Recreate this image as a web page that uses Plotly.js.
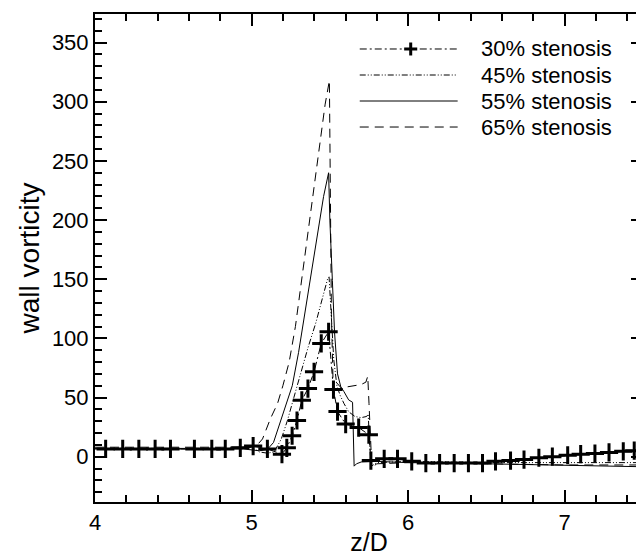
<!DOCTYPE html>
<html><head><meta charset="utf-8">
<script src="https://cdn.plot.ly/plotly-3.0.1.min.js"></script>
<style>html,body{margin:0;padding:0;overflow:hidden;background:#fff}#chart{width:652px;height:556px}</style>
</head><body><div id="chart"></div><script>
// ---- data ----
const seriesNames = ['30% stenosis', '45% stenosis', '55% stenosis', '65% stenosis'];

const x30 = [4.068,4.177,4.280,4.384,4.482,4.635,4.746,4.832,4.928,5.010,5.101,5.194,5.225,5.259,5.290,5.321,5.360,5.399,5.445,5.492,5.523,5.549,5.601,5.684,5.749,5.762,5.847,5.932,6.023,6.113,6.201,6.294,6.385,6.475,6.558,6.654,6.740,6.835,6.921,7.019,7.102,7.193,7.283,7.374,7.444];
const y30 = [6.6,6.6,6.6,6.6,6.6,6.6,6.6,6.6,7.5,9.0,6.6,2.1,7.5,17.7,30.6,47.7,57.6,71.7,95.7,105.6,56.7,38.1,27.6,24.6,18.6,-3.3,-1.8,-1.8,-3.9,-5.4,-5.4,-5.4,-5.4,-5.4,-3.9,-3.3,-2.4,-0.9,0,1.2,2.1,2.7,3.6,4.5,5.1];

const x45 = [4.0,4.5,4.95,5.0,5.05,5.10,5.144,5.19,5.23,5.27,5.315,5.36,5.41,5.45,5.485,5.495,5.505,5.515,5.525,5.545,5.565,5.59,5.62,5.66,5.70,5.735,5.745,5.752,5.765,5.80,6.0,6.5,7.0,7.5];
const y45 = [7,7,7,8,4,3,4,15,31,50,72,92,113,132,150,152,130,100,82,60,52,45,38,34,33,34,36,15,-8,-5,-4,-5,-5,-5];

const x55 = [4.0,4.5,4.95,5.05,5.10,5.14,5.18,5.22,5.26,5.30,5.34,5.38,5.42,5.46,5.492,5.50,5.516,5.53,5.549,5.57,5.59,5.62,5.645,5.655,5.67,5.70,5.8,6.0,6.5,7.0,7.5];
const y55 = [6.5,6.5,6.5,5,6,12,28,42,60,88,122,152,190,220,240,200,149,105,70,59,55,48,46,-8,-6,-4.5,-4,-5,-6,-7.5,-8.5];

const x65 = [4.0,4.5,4.9,5.03,5.07,5.12,5.166,5.20,5.24,5.28,5.32,5.36,5.40,5.44,5.47,5.497,5.503,5.51,5.52,5.54,5.56,5.58,5.61,5.65,5.70,5.73,5.742,5.75,5.758,5.768,5.80,6.0,6.5,7.0,7.5];
const y65 = [8,8,8,9,15,32,45,60,80,110,150,190,228,270,298,318,240,120,66,63,60,57,59,60,61,63,68,45,20,-9,-6,-5,-6,-7,-7];

const xRange = [4, 7.5];
const yRange = [-38.3, 374.2];

// ---- styles ----
const FONT = 'Liberation Sans, Arial, sans-serif';
const dashes = ['7px,3px,2px,3px', '6px,2px,1px,2px,1px,2px', 'solid', '9px,6px'];

const traces = [
  {x: x65, y: y65, name: seriesNames[3], mode: 'lines', line: {color: '#000', width: 1, dash: dashes[3]}},
  {x: x55, y: y55, name: seriesNames[2], mode: 'lines', line: {color: '#000', width: 1, dash: dashes[2]}},
  {x: x45, y: y45, name: seriesNames[1], mode: 'lines', line: {color: '#000', width: 1, dash: dashes[1]}},
  {x: x30, y: y30, name: seriesNames[0], mode: 'lines+markers', line: {color: '#000', width: 1, dash: dashes[0]},
   marker: {symbol: 'cross-thin', size: 13, color: '#000', line: {color: '#000', width: 3}}}
].map(t => Object.assign(t, {type: 'scatter', showlegend: false}));

// custom legend (long line samples as in the reference)
const legX0 = 0.4831, legX1 = 0.6618, legTextX = 0.7001;
const legRows = [0.9283, 0.8750, 0.8217, 0.7684];
const shapes = [];
const annotations = [];
seriesNames.forEach((nm, i) => {
  shapes.push({type: 'line', xref: 'paper', yref: 'paper', x0: legX0, x1: legX1, y0: legRows[i], y1: legRows[i],
               line: {color: '#000', width: 1, dash: dashes[i]}});
  annotations.push({xref: 'paper', yref: 'paper', x: legTextX, y: legRows[i], xanchor: 'left', yanchor: 'middle',
                    text: nm, showarrow: false, font: {family: FONT, size: 22, color: '#000'}});
});
const pmx = 0.5761, pdx = 0.0119, pdy = 0.0133;
shapes.push({type: 'line', xref: 'paper', yref: 'paper', x0: pmx - pdx, x1: pmx + pdx, y0: legRows[0], y1: legRows[0], line: {color: '#000', width: 3}});
shapes.push({type: 'line', xref: 'paper', yref: 'paper', x0: pmx, x1: pmx, y0: legRows[0] - pdy, y1: legRows[0] + pdy, line: {color: '#000', width: 3}});

const tickFont = {family: FONT, size: 22, color: '#000'};

const layout = {
  width: 652, height: 556,
  margin: {l: 95, r: 8.5, t: 14, b: 54},
  showlegend: false,
  xaxis: {
    range: xRange, dtick: 1, ticks: 'inside', ticklen: 12, tickwidth: 2, tickcolor: '#000',
    showline: true, linewidth: 2, linecolor: '#000', mirror: 'ticks', showgrid: false, zeroline: false,
    minor: {ticks: 'inside', ticklen: 7, dtick: 0.2},
    tickfont: tickFont,
    title: {text: 'z/D', font: {family: FONT, size: 25, color: '#000'}, standoff: 3}
  },
  yaxis: {
    range: yRange, dtick: 50, ticks: 'inside', ticklen: 12, tickwidth: 2, tickcolor: '#000',
    showline: true, linewidth: 2, linecolor: '#000', mirror: 'ticks', showgrid: false, zeroline: false,
    minor: {ticks: 'inside', ticklen: 7, dtick: 10},
    tickfont: tickFont,
    title: {text: 'wall vorticity', font: {family: FONT, size: 28, color: '#000'}, standoff: 4}
  },
  shapes: shapes,
  annotations: annotations
};

Plotly.newPlot('chart', traces, layout, {displayModeBar: false, staticPlot: true});
</script></body></html>
